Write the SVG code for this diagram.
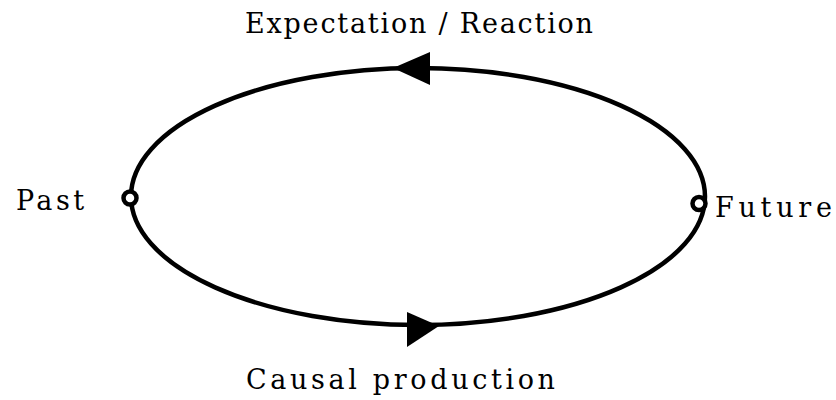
<svg xmlns="http://www.w3.org/2000/svg" width="836" height="400" viewBox="0 0 836 400">
<style>
.lbl{font-family:"DejaVu Serif","Liberation Serif",serif;font-size:27px;fill:#000}
.edge{fill:none;stroke:#000;stroke-width:4.5}
.port{fill:#fff;stroke:#000;stroke-width:4.5}
.head{fill:#000}
</style>
<rect width="836" height="400" fill="#fff"/>
<g id="connectors">
<ellipse class="edge" cx="418" cy="196.5" rx="287" ry="128.5"/>
<polygon class="head" points="393,68 430,52 430,85"/>
<polygon class="head" points="439,326 407,312 407,347"/>
</g>
<g id="past">
<circle class="port" cx="130" cy="198" r="6.5"/>
<text class="lbl" x="16" y="210" textLength="68" lengthAdjust="spacing">Past</text>
</g>
<g id="future">
<circle class="port" cx="699" cy="203.5" r="6.5"/>
<text class="lbl" x="715" y="217" textLength="117" lengthAdjust="spacing">Future</text>
</g>
<g id="expectation">
<text class="lbl" x="245" y="33" textLength="348" lengthAdjust="spacing">Expectation / Reaction</text>
</g>
<g id="causal">
<text class="lbl" x="246" y="389" textLength="309" lengthAdjust="spacing">Causal production</text>
</g>
</svg>
